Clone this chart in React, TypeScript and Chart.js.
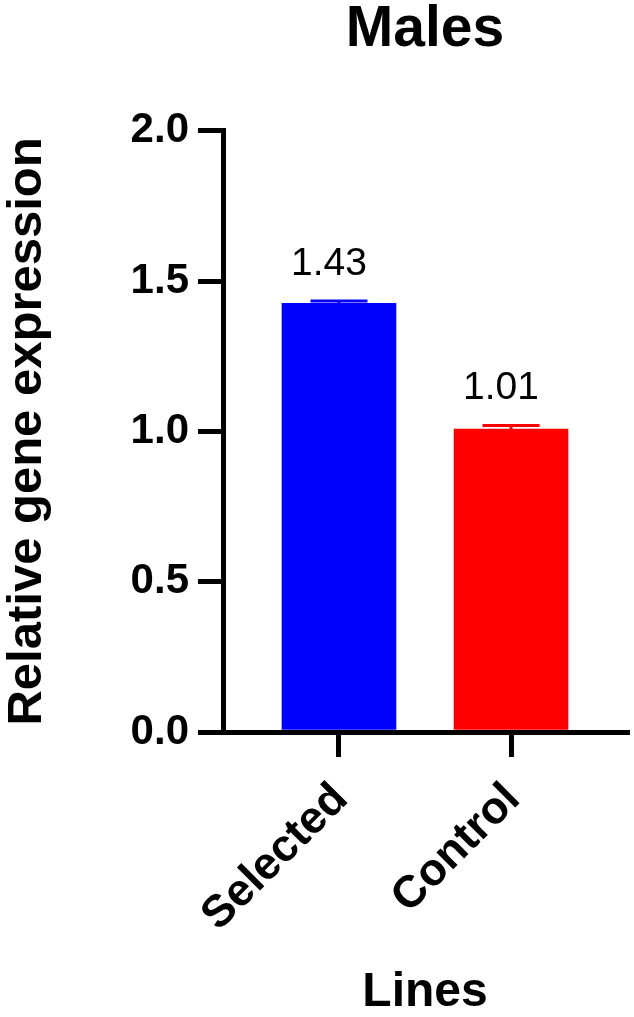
import React, { useEffect, useRef } from 'react';
import { Chart, registerables } from 'chart.js';

Chart.register(...registerables);

// values
const lines = ['Selected', 'Control'];
const linePositions = [0, 1];
const expression = [1.426, 1.008];
const sem = [0.008, 0.012];
const barColors = ['#0000ff', '#ff0000'];
const yTicks = [0, 0.5, 1.0, 1.5, 2.0];

const FONT = '"Liberation Sans", Arial, sans-serif';

// error caps and the value printed above each bar
const barExtras = {
  id: 'barExtras',
  afterDatasetsDraw(chart: any) {
    const ctx = chart.ctx;
    const yScale = chart.scales.y;
    const meta = chart.getDatasetMeta(0);
    meta.data.forEach((bar: any, i: number) => {
      const top = yScale.getPixelForValue(expression[i] + sem[i]);
      const half = bar.width / 4;
      ctx.save();
      ctx.strokeStyle = barColors[i];
      ctx.lineWidth = 3;
      ctx.beginPath();
      ctx.moveTo(bar.x - half, top);
      ctx.lineTo(bar.x + half, top);
      ctx.moveTo(bar.x, top);
      ctx.lineTo(bar.x, bar.y);
      ctx.stroke();
      ctx.fillStyle = '#000';
      ctx.font = `39px ${FONT}`;
      ctx.textAlign = 'center';
      ctx.textBaseline = 'alphabetic';
      ctx.fillText(expression[i].toFixed(2), bar.x - 10, top - 26);
      ctx.restore();
    });
  },
};

const App: React.FC = () => {
  const chartRef = useRef<HTMLCanvasElement | null>(null);

  useEffect(() => {
    document.body.style.margin = '0';
    if (!chartRef.current) return;
    const ctx = chartRef.current.getContext('2d');
    if (!ctx) return;

    Chart.defaults.font.family = FONT;
    Chart.defaults.color = '#000';

    const axisLine = { width: 5, color: '#000' };
    const tickMarks = { drawOnChartArea: false, tickLength: 25, lineWidth: 5, color: '#000', offset: false };

    const myChart = new Chart(ctx, {
      type: 'bar',
      data: {
        datasets: [
          {
            data: linePositions.map((x, i) => ({ x, y: expression[i] })),
            backgroundColor: barColors,
            barThickness: 114,
          },
        ],
      },
      options: {
        animation: false,
        responsive: false,
        maintainAspectRatio: false,
        layout: { padding: { right: 7 } },
        plugins: {
          legend: { display: false },
          tooltip: { enabled: false },
          title: {
            display: true,
            fullSize: false,
            text: 'Males',
            color: '#000',
            font: { size: 57, weight: 'bold', lineHeight: 1.05 },
            padding: { top: 0, bottom: 71 },
          },
        },
        scales: {
          x: {
            type: 'linear',
            offset: false,
            min: -0.674,
            max: 1.674,
            afterBuildTicks: (s: any) => {
              s.ticks = linePositions.map((v) => ({ value: v }));
            },
            afterFit: (s: any) => {
              s.height = 285;
            },
            ticks: {
              callback: (v: any) => lines[linePositions.indexOf(v)],
              minRotation: 45,
              maxRotation: 45,
              autoSkip: false,
              padding: 16,
              labelOffset: 2,
              color: '#000',
              font: { size: 45, weight: 'bold' },
            },
            grid: tickMarks,
            border: axisLine,
            title: {
              display: true,
              text: 'Lines',
              color: '#000',
              font: { size: 48, weight: 'bold', lineHeight: 1 },
              padding: 0,
            },
          },
          y: {
            min: 0,
            max: 2,
            afterBuildTicks: (s: any) => {
              s.ticks = yTicks.map((v) => ({ value: v }));
            },
            afterFit: (s: any) => {
              s.width = 223;
            },
            ticks: {
              callback: (v: any) => Number(v).toFixed(1),
              padding: 9,
              color: '#000',
              font: { size: 42, weight: 'bold' },
            },
            grid: tickMarks,
            border: axisLine,
            title: {
              display: true,
              text: 'Relative gene expression',
              color: '#000',
              font: { size: 49, weight: 'bold', lineHeight: 1 },
              padding: { top: 3, bottom: 0 },
            },
          },
        },
      },
      plugins: [barExtras],
    } as any);

    return () => {
      myChart.destroy();
    };
  }, []);

  return (
    <div style={{ width: 634, height: 1017, background: '#fff' }}>
      <canvas ref={chartRef} width={634} height={1017} style={{ display: 'block' }} />
    </div>
  );
};

export default App;
